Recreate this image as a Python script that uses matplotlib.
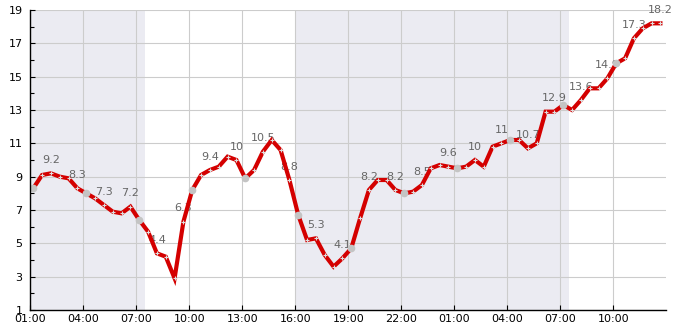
import matplotlib
matplotlib.use('Agg')
import matplotlib.pyplot as plt
import matplotlib.dates as mdates
import numpy as np
import pandas as pd

# half-hourly values
start = '2024-01-01 01:10'
values = [8.3, 9.1, 9.2, 9.0, 8.9, 8.3, 8.0, 7.7, 7.3, 6.9, 6.8, 7.2,
          6.4, 5.7, 4.4, 4.2, 2.9, 6.3, 8.2, 9.1, 9.4, 9.6, 10.2, 10.0,
          8.9, 9.4, 10.5, 11.2, 10.6, 8.8, 6.7, 5.2, 5.3, 4.3, 3.6, 4.1,
          4.7, 6.5, 8.2, 8.8, 8.8, 8.2, 8.0, 8.1, 8.5, 9.5, 9.7, 9.6,
          9.5, 9.6, 10.0, 9.6, 10.8, 11.0, 11.2, 11.2, 10.7, 11.0, 12.9, 12.9,
          13.3, 13.0, 13.6, 14.3, 14.3, 14.9, 15.8, 16.1, 17.3, 17.9, 18.2, 18.2]
times = pd.date_range(start, periods=len(values), freq='30min')

# dark periods (shaded)
night_spans = [('2024-01-01 01:00', '2024-01-01 07:30'),
               ('2024-01-01 16:00', '2024-01-02 07:30')]
x_range = ('2024-01-01 01:00', '2024-01-02 12:59')
y_ticks = list(range(1, 20, 2))

fig = plt.figure(figsize=(6.85, 3.3), dpi=100)
ax = fig.add_axes([30.3/685, 20/330, (666-30.3)/685, 300/330])

for a, b in night_spans:
    ax.axvspan(pd.Timestamp(a), pd.Timestamp(b), color='#ebebf2', lw=0, zorder=0)

ax.plot(times, values, color='#d40000', lw=3, zorder=3, solid_joinstyle='miter')
ax.plot(times, values, ls='none', marker='+', ms=3, mec='#dddddd', mew=0.8, zorder=4)
ax.plot(times[::6], values[::6], ls='none', marker='o', ms=4.5, mfc='#c4c4c4', mec='#c4c4c4', zorder=5)

for t, v in zip(times[2::3], values[2::3]):
    ax.annotate(f'{v:g}', (t, v), xytext=(0, 9.7), textcoords='offset points',
                ha='center', va='center', fontsize=8, color='#666666', zorder=2)

ax.set_xlim(pd.Timestamp(x_range[0]), pd.Timestamp(x_range[1]))
ax.set_ylim(1, 19)
ax.set_yticks(y_ticks)
ax.set_yticks(range(2, 19, 2), minor=True)
ax.xaxis.set_major_locator(mdates.HourLocator(byhour=range(1, 24, 3)))
ax.xaxis.set_major_formatter(mdates.DateFormatter('%H:%M'))

ax.grid(True, which='major', color='#cccccc', lw=0.8, zorder=1)
ax.set_axisbelow(True)
for s in ['top', 'right']:
    ax.spines[s].set_visible(False)
for s in ['left', 'bottom']:
    ax.spines[s].set_color('black')
    ax.spines[s].set_linewidth(1)
    ax.spines[s].set_zorder(6)

ax.tick_params(axis='both', which='major', direction='in', length=3.5, width=0.8,
               labelsize=8, colors='black')
ax.tick_params(axis='y', which='major', pad=5.5)
ax.tick_params(axis='x', which='major', pad=3)
ax.tick_params(axis='y', which='minor', direction='in', length=3, width=0.8, color='black')

fig.savefig('out.png', dpi=100)
